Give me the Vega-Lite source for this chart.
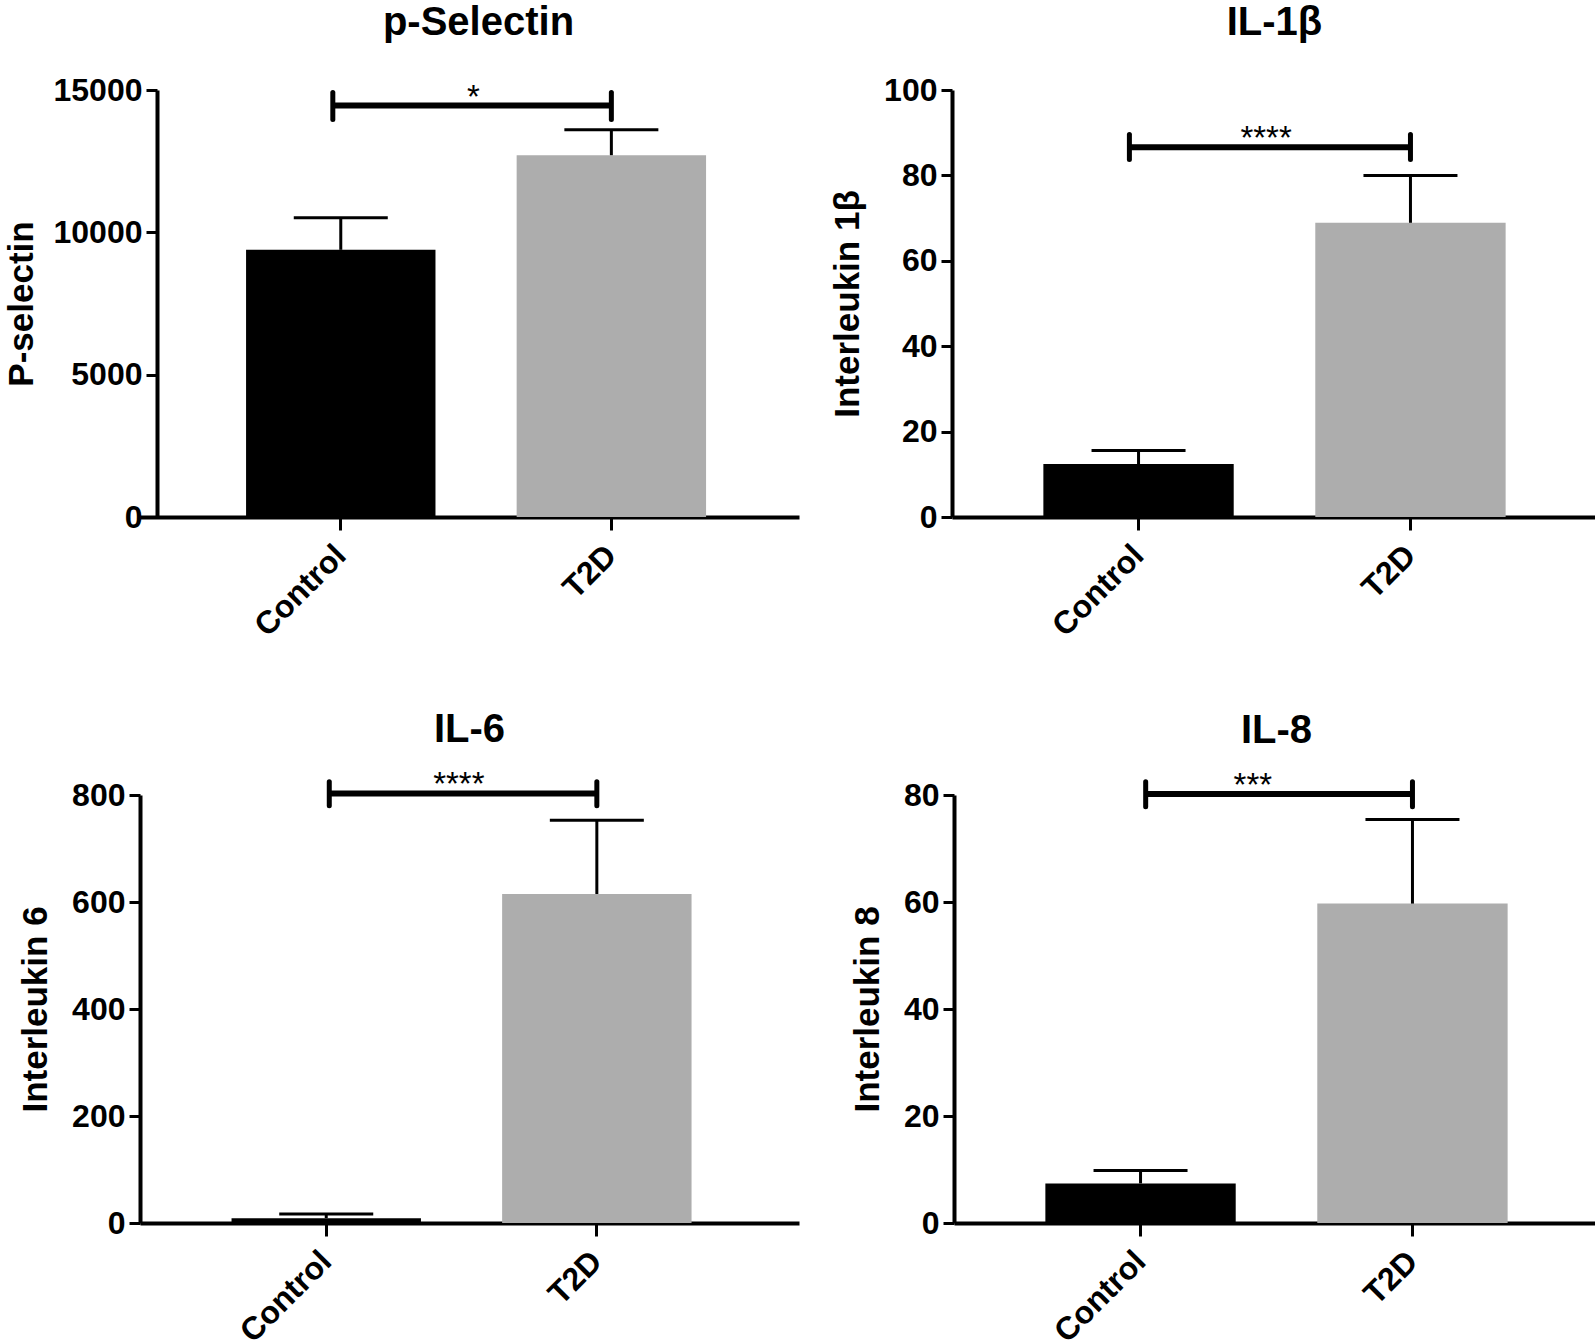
{
  "$schema": "https://vega.github.io/schema/vega-lite/v6.json",
  "background": "white",
  "padding": {"left": 4, "top": 3, "right": 3, "bottom": 0},
  "config": {
    "font": "Liberation Sans",
    "view": {"stroke": null},
    "axis": {
      "domainColor": "black", "domainWidth": 4, "tickColor": "black", "tickWidth": 3, "tickSize": 11,
      "labelColor": "black", "labelFont": "Liberation Sans", "labelFontWeight": "bold", "labelFontSize": 32,
      "labelPadding": 4, "titleFont": "Liberation Sans", "titleFontSize": 35, "titleFontWeight": "bold",
      "titleColor": "black", "grid": false
    },
    "axisX": {"labelAngle": -45, "labelFontSize": 32, "tickSize": 13, "labelPadding": 20, "labelAlign": "right", "labelBaseline": "middle"},
    "axisY": {"titlePadding": 18},
    "title": {"fontSize": 40, "fontWeight": "bold", "color": "black", "frame": "group", "anchor": "middle", "font": "Liberation Sans"}
  },
  "spacing": 68,
  "vconcat": [
    {
      "spacing": 31,
      "hconcat": [
        {
          "title": {"text": "p-Selectin", "offset": 31, "dx": 9},
          "width": 659, "height": 427,
          "layer": [
            {
              "data": {"values": [{"group": "Control", "mean": 9386, "upper": 10511}, {"group": "T2D", "mean": 12710, "upper": 13608}]},
              "layer": [
                {"mark": {"type": "bar"},
                 "encoding": {
                   "x": {"field": "group", "type": "nominal", "title": null, "scale": {"domain": ["Control", "T2D"], "paddingInner": 0.3, "paddingOuter": 0.3677, "align": 0.533}},
                   "y": {"field": "mean", "type": "quantitative", "title": "P-selectin", "scale": {"domain": [0, 15000], "nice": false}, "axis": {"values": [0, 5000, 10000, 15000], "format": "d", "offset": -17, "titlePadding": 14}},
                   "color": {"field": "group", "type": "nominal", "scale": {"domain": ["Control", "T2D"], "range": ["#000000", "#adadad"]}, "legend": null}
                 }},
                {"mark": {"type": "rule", "strokeWidth": 3, "color": "black"},
                 "encoding": {"x": {"field": "group", "type": "nominal", "title": null}, "y": {"field": "mean", "type": "quantitative", "title": "P-selectin", "axis": {"values": [0, 5000, 10000, 15000], "format": "d", "offset": -17, "titlePadding": 14}}, "y2": {"field": "upper"}}},
                {"mark": {"type": "tick", "size": 94, "thickness": 3, "color": "black", "opacity": 1},
                 "encoding": {"x": {"field": "group", "type": "nominal", "title": null}, "y": {"field": "upper", "type": "quantitative", "title": "P-selectin", "axis": {"values": [0, 5000, 10000, 15000], "format": "d", "offset": -17, "titlePadding": 14}}}}
              ]
            },
            {
              "data": {"values": [{"x1": "Control", "x2": "T2D", "y": 14455, "lo": 13967, "hi": 14911, "label": "*"}]},
              "layer": [
                {"mark": {"type": "rule", "strokeWidth": 6, "color": "black"},
                 "encoding": {"x": {"field": "x1", "type": "nominal", "bandPosition": 0.458, "title": null}, "x2": {"field": "x2", "bandPosition": 0.5}, "y": {"field": "y", "type": "quantitative", "title": "P-selectin", "axis": {"values": [0, 5000, 10000, 15000], "format": "d", "offset": -17, "titlePadding": 14}}}},
                {"mark": {"type": "rule", "strokeWidth": 5, "strokeCap": "round", "color": "black"},
                 "encoding": {"x": {"field": "x1", "type": "nominal", "bandPosition": 0.458, "title": null}, "y": {"field": "lo", "type": "quantitative", "title": "P-selectin", "axis": {"values": [0, 5000, 10000, 15000], "format": "d", "offset": -17, "titlePadding": 14}}, "y2": {"field": "hi"}}},
                {"mark": {"type": "rule", "strokeWidth": 5, "strokeCap": "round", "color": "black"},
                 "encoding": {"x": {"field": "x2", "type": "nominal", "bandPosition": 0.5, "title": null}, "y": {"field": "lo", "type": "quantitative", "title": "P-selectin", "axis": {"values": [0, 5000, 10000, 15000], "format": "d", "offset": -17, "titlePadding": 14}}, "y2": {"field": "hi"}}},
                {"mark": {"type": "text", "fontSize": 33, "baseline": "alphabetic", "align": "center", "dy": 2, "color": "black"},
                 "encoding": {"x": {"field": "x1", "type": "nominal", "bandPosition": 1.2, "title": null}, "y": {"field": "y", "type": "quantitative", "title": "P-selectin", "axis": {"values": [0, 5000, 10000, 15000], "format": "d", "offset": -17, "titlePadding": 14}}, "text": {"field": "label"}}}
              ]
            }
          ]
        },
        {
          "title": {"text": "IL-1β", "offset": 31},
          "width": 645, "height": 427,
          "layer": [
            {
              "data": {"values": [{"group": "Control", "mean": 12.4, "upper": 15.6}, {"group": "T2D", "mean": 68.9, "upper": 80.0}]},
              "layer": [
                {"mark": {"type": "bar"},
                 "encoding": {
                   "x": {"field": "group", "type": "nominal", "title": null, "scale": {"domain": ["Control", "T2D"], "paddingInner": 0.3, "paddingOuter": 0.336}},
                   "y": {"field": "mean", "type": "quantitative", "title": "Interleukin 1β", "scale": {"domain": [0, 100], "nice": false}, "axis": {"values": [0, 20, 40, 60, 80, 100], "format": "d"}},
                   "color": {"field": "group", "type": "nominal", "scale": {"domain": ["Control", "T2D"], "range": ["#000000", "#adadad"]}, "legend": null}
                 }},
                {"mark": {"type": "rule", "strokeWidth": 3, "color": "black"},
                 "encoding": {"x": {"field": "group", "type": "nominal", "title": null}, "y": {"field": "mean", "type": "quantitative", "title": "Interleukin 1β", "axis": {"values": [0, 20, 40, 60, 80, 100], "format": "d"}}, "y2": {"field": "upper"}}},
                {"mark": {"type": "tick", "size": 94, "thickness": 3, "color": "black", "opacity": 1},
                 "encoding": {"x": {"field": "group", "type": "nominal", "title": null}, "y": {"field": "upper", "type": "quantitative", "title": "Interleukin 1β", "axis": {"values": [0, 20, 40, 60, 80, 100], "format": "d"}}}}
              ]
            },
            {
              "data": {"values": [{"x1": "Control", "x2": "T2D", "y": 86.6, "lo": 83.7, "hi": 89.6, "label": "****"}]},
              "layer": [
                {"mark": {"type": "rule", "strokeWidth": 6, "color": "black"},
                 "encoding": {"x": {"field": "x1", "type": "nominal", "bandPosition": 0.452, "title": null}, "x2": {"field": "x2", "bandPosition": 0.5}, "y": {"field": "y", "type": "quantitative", "title": "Interleukin 1β", "axis": {"values": [0, 20, 40, 60, 80, 100], "format": "d"}}}},
                {"mark": {"type": "rule", "strokeWidth": 5, "strokeCap": "round", "color": "black"},
                 "encoding": {"x": {"field": "x1", "type": "nominal", "bandPosition": 0.452, "title": null}, "y": {"field": "lo", "type": "quantitative", "title": "Interleukin 1β", "axis": {"values": [0, 20, 40, 60, 80, 100], "format": "d"}}, "y2": {"field": "hi"}}},
                {"mark": {"type": "rule", "strokeWidth": 5, "strokeCap": "round", "color": "black"},
                 "encoding": {"x": {"field": "x2", "type": "nominal", "bandPosition": 0.5, "title": null}, "y": {"field": "lo", "type": "quantitative", "title": "Interleukin 1β", "axis": {"values": [0, 20, 40, 60, 80, 100], "format": "d"}}, "y2": {"field": "hi"}}},
                {"mark": {"type": "text", "fontSize": 33, "baseline": "alphabetic", "align": "center", "dy": 2, "color": "black"},
                 "encoding": {"x": {"field": "x1", "type": "nominal", "bandPosition": 1.17, "title": null}, "y": {"field": "y", "type": "quantitative", "title": "Interleukin 1β", "axis": {"values": [0, 20, 40, 60, 80, 100], "format": "d"}}, "text": {"field": "label"}}}
              ]
            }
          ]
        }
      ]
    },
    {
      "spacing": 51,
      "hconcat": [
        {
          "title": {"text": "IL-6", "offset": 19},
          "width": 659, "height": 428,
          "layer": [
            {
              "data": {"values": [{"group": "Control", "mean": 9, "upper": 17}, {"group": "T2D", "mean": 615, "upper": 753}]},
              "layer": [
                {"mark": {"type": "bar"},
                 "encoding": {
                   "x": {"field": "group", "type": "nominal", "title": null, "scale": {"domain": ["Control", "T2D"], "paddingInner": 0.3, "paddingOuter": 0.3677, "align": 0.46}},
                   "y": {"field": "mean", "type": "quantitative", "title": "Interleukin 6", "scale": {"domain": [0, 800], "nice": false}, "axis": {"values": [0, 200, 400, 600, 800], "format": "d"}},
                   "color": {"field": "group", "type": "nominal", "scale": {"domain": ["Control", "T2D"], "range": ["#000000", "#adadad"]}, "legend": null}
                 }},
                {"mark": {"type": "rule", "strokeWidth": 3, "color": "black"},
                 "encoding": {"x": {"field": "group", "type": "nominal", "title": null}, "y": {"field": "mean", "type": "quantitative", "title": "Interleukin 6", "axis": {"values": [0, 200, 400, 600, 800], "format": "d"}}, "y2": {"field": "upper"}}},
                {"mark": {"type": "tick", "size": 94, "thickness": 3, "color": "black", "opacity": 1},
                 "encoding": {"x": {"field": "group", "type": "nominal", "title": null}, "y": {"field": "upper", "type": "quantitative", "title": "Interleukin 6", "axis": {"values": [0, 200, 400, 600, 800], "format": "d"}}}}
              ]
            },
            {
              "data": {"values": [{"x1": "Control", "x2": "T2D", "y": 803, "lo": 780, "hi": 825, "label": "****"}]},
              "layer": [
                {"mark": {"type": "rule", "strokeWidth": 6, "color": "black"},
                 "encoding": {"x": {"field": "x1", "type": "nominal", "bandPosition": 0.516, "title": null}, "x2": {"field": "x2", "bandPosition": 0.5}, "y": {"field": "y", "type": "quantitative", "title": "Interleukin 6", "axis": {"values": [0, 200, 400, 600, 800], "format": "d"}}}},
                {"mark": {"type": "rule", "strokeWidth": 5, "strokeCap": "round", "color": "black"},
                 "encoding": {"x": {"field": "x1", "type": "nominal", "bandPosition": 0.516, "title": null}, "y": {"field": "lo", "type": "quantitative", "title": "Interleukin 6", "axis": {"values": [0, 200, 400, 600, 800], "format": "d"}}, "y2": {"field": "hi"}}},
                {"mark": {"type": "rule", "strokeWidth": 5, "strokeCap": "round", "color": "black"},
                 "encoding": {"x": {"field": "x2", "type": "nominal", "bandPosition": 0.5, "title": null}, "y": {"field": "lo", "type": "quantitative", "title": "Interleukin 6", "axis": {"values": [0, 200, 400, 600, 800], "format": "d"}}, "y2": {"field": "hi"}}},
                {"mark": {"type": "text", "fontSize": 33, "baseline": "alphabetic", "align": "center", "dy": 2, "color": "black"},
                 "encoding": {"x": {"field": "x1", "type": "nominal", "bandPosition": 1.2, "title": null}, "y": {"field": "y", "type": "quantitative", "title": "Interleukin 6", "axis": {"values": [0, 200, 400, 600, 800], "format": "d"}}, "text": {"field": "label"}}}
              ]
            }
          ]
        },
        {
          "title": {"text": "IL-8", "offset": 19},
          "width": 645, "height": 428,
          "layer": [
            {
              "data": {"values": [{"group": "Control", "mean": 7.4, "upper": 9.8}, {"group": "T2D", "mean": 59.7, "upper": 75.4}]},
              "layer": [
                {"mark": {"type": "bar"},
                 "encoding": {
                   "x": {"field": "group", "type": "nominal", "title": null, "scale": {"domain": ["Control", "T2D"], "paddingInner": 0.3, "paddingOuter": 0.336}},
                   "y": {"field": "mean", "type": "quantitative", "title": "Interleukin 8", "scale": {"domain": [0, 80], "nice": false}, "axis": {"values": [0, 20, 40, 60, 80], "format": "d"}},
                   "color": {"field": "group", "type": "nominal", "scale": {"domain": ["Control", "T2D"], "range": ["#000000", "#adadad"]}, "legend": null}
                 }},
                {"mark": {"type": "rule", "strokeWidth": 3, "color": "black"},
                 "encoding": {"x": {"field": "group", "type": "nominal", "title": null}, "y": {"field": "mean", "type": "quantitative", "title": "Interleukin 8", "axis": {"values": [0, 20, 40, 60, 80], "format": "d"}}, "y2": {"field": "upper"}}},
                {"mark": {"type": "tick", "size": 94, "thickness": 3, "color": "black", "opacity": 1},
                 "encoding": {"x": {"field": "group", "type": "nominal", "title": null}, "y": {"field": "upper", "type": "quantitative", "title": "Interleukin 8", "axis": {"values": [0, 20, 40, 60, 80], "format": "d"}}}}
              ]
            },
            {
              "data": {"values": [{"x1": "Control", "x2": "T2D", "y": 80.2, "lo": 77.8, "hi": 82.5, "label": "***"}]},
              "layer": [
                {"mark": {"type": "rule", "strokeWidth": 6, "color": "black"},
                 "encoding": {"x": {"field": "x1", "type": "nominal", "bandPosition": 0.527, "title": null}, "x2": {"field": "x2", "bandPosition": 0.5}, "y": {"field": "y", "type": "quantitative", "title": "Interleukin 8", "axis": {"values": [0, 20, 40, 60, 80], "format": "d"}}}},
                {"mark": {"type": "rule", "strokeWidth": 5, "strokeCap": "round", "color": "black"},
                 "encoding": {"x": {"field": "x1", "type": "nominal", "bandPosition": 0.527, "title": null}, "y": {"field": "lo", "type": "quantitative", "title": "Interleukin 8", "axis": {"values": [0, 20, 40, 60, 80], "format": "d"}}, "y2": {"field": "hi"}}},
                {"mark": {"type": "rule", "strokeWidth": 5, "strokeCap": "round", "color": "black"},
                 "encoding": {"x": {"field": "x2", "type": "nominal", "bandPosition": 0.5, "title": null}, "y": {"field": "lo", "type": "quantitative", "title": "Interleukin 8", "axis": {"values": [0, 20, 40, 60, 80], "format": "d"}}, "y2": {"field": "hi"}}},
                {"mark": {"type": "text", "fontSize": 33, "baseline": "alphabetic", "align": "center", "dy": 2, "color": "black"},
                 "encoding": {"x": {"field": "x1", "type": "nominal", "bandPosition": 1.09, "title": null}, "y": {"field": "y", "type": "quantitative", "title": "Interleukin 8", "axis": {"values": [0, 20, 40, 60, 80], "format": "d"}}, "text": {"field": "label"}}}
              ]
            }
          ]
        }
      ]
    }
  ]
}
